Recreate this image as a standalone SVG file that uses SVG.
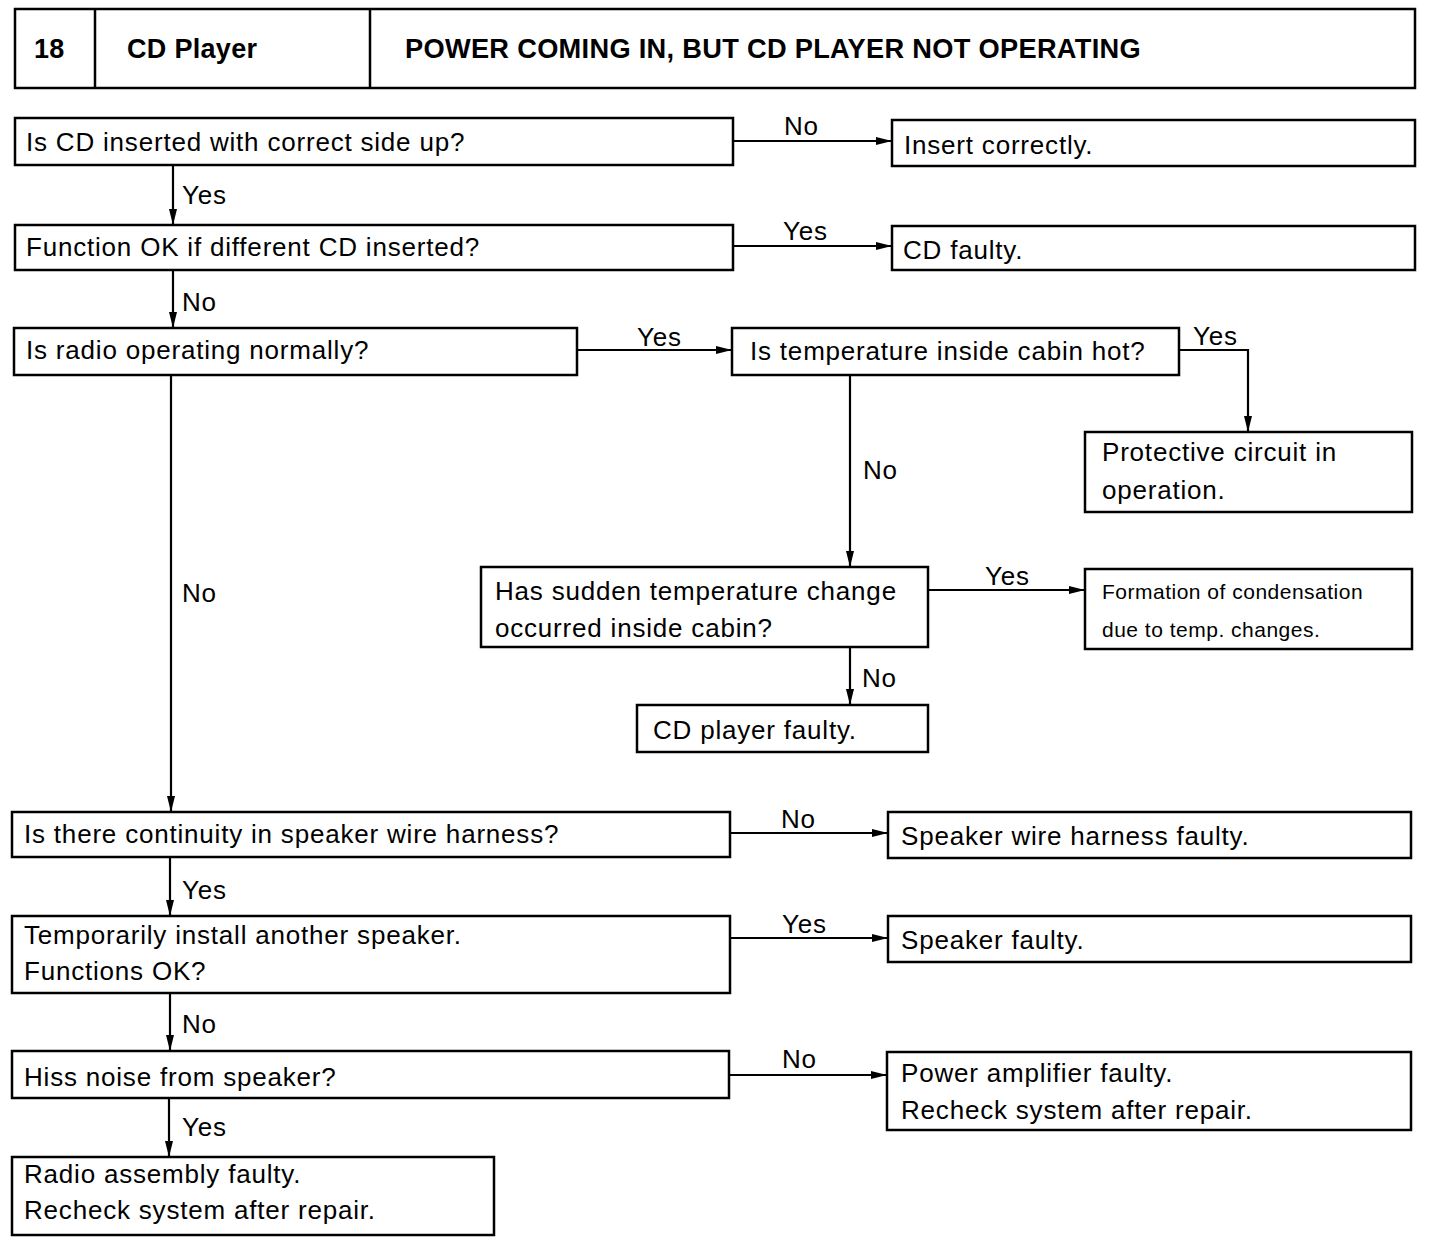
<svg xmlns="http://www.w3.org/2000/svg" width="1440" height="1244" viewBox="0 0 1440 1244">
<style>
rect.b{fill:#fff;stroke:#000;stroke-width:2.5}
text{font-family:"Liberation Sans",Arial,sans-serif;font-size:26px;letter-spacing:0.8px;fill:#000}
text.h{font-weight:bold;font-size:27px;letter-spacing:0.3px}
text.s{font-size:21px;letter-spacing:0.5px}
.c path,.c line{stroke:#000;stroke-width:2.2;fill:none}
</style>
<defs>
<marker id="a" viewBox="0 0 16 8" refX="16" refY="4" markerWidth="16" markerHeight="8" markerUnits="userSpaceOnUse" orient="auto">
<path d="M0,0 L16,4 L0,8 Z" fill="#000"/>
</marker>
</defs>
<rect width="1440" height="1244" fill="#fff"/>
<g id="header">
<rect class="b" x="15" y="9" width="1400" height="79" stroke-width="3"/>
<line x1="95" y1="9" x2="95" y2="88" stroke="#000" stroke-width="2.5"/>
<line x1="370" y1="9" x2="370" y2="88" stroke="#000" stroke-width="2.5"/>
<text class="h" x="34" y="58">18</text>
<text class="h" x="127" y="58">CD Player</text>
<text class="h" x="405" y="58" textLength="736" lengthAdjust="spacingAndGlyphs">POWER COMING IN, BUT CD PLAYER NOT OPERATING</text>
</g>
<g class="c" id="connectors">
<line x1="733" y1="141" x2="892" y2="141" marker-end="url(#a)"/>
<line x1="173" y1="165" x2="173" y2="225" marker-end="url(#a)"/>
<line x1="733" y1="246" x2="892" y2="246" marker-end="url(#a)"/>
<line x1="173" y1="270" x2="173" y2="328" marker-end="url(#a)"/>
<line x1="577" y1="350" x2="732" y2="350" marker-end="url(#a)"/>
<path d="M1179,350 H1248 V432" marker-end="url(#a)"/>
<line x1="850" y1="375" x2="850" y2="567" marker-end="url(#a)"/>
<line x1="928" y1="590" x2="1085" y2="590" marker-end="url(#a)"/>
<line x1="850" y1="647" x2="850" y2="705" marker-end="url(#a)"/>
<line x1="171" y1="375" x2="171" y2="812" marker-end="url(#a)"/>
<line x1="730" y1="833" x2="888" y2="833" marker-end="url(#a)"/>
<line x1="170" y1="857" x2="170" y2="916" marker-end="url(#a)"/>
<line x1="730" y1="938" x2="888" y2="938" marker-end="url(#a)"/>
<line x1="170" y1="993" x2="170" y2="1051" marker-end="url(#a)"/>
<line x1="729" y1="1075" x2="887" y2="1075" marker-end="url(#a)"/>
<line x1="169" y1="1098" x2="169" y2="1157" marker-end="url(#a)"/>
</g>
<g id="labels">
<text x="784" y="135">No</text>
<text x="182" y="204">Yes</text>
<text x="783" y="240">Yes</text>
<text x="182" y="311">No</text>
<text x="637" y="346">Yes</text>
<text x="1193" y="345">Yes</text>
<text x="863" y="479">No</text>
<text x="182" y="602">No</text>
<text x="985" y="585">Yes</text>
<text x="862" y="687">No</text>
<text x="781" y="828">No</text>
<text x="182" y="899">Yes</text>
<text x="782" y="933">Yes</text>
<text x="182" y="1033">No</text>
<text x="782" y="1068">No</text>
<text x="182" y="1136">Yes</text>
</g>
<g id="n1"><rect class="b" x="15" y="118" width="718" height="47"/><text x="26" y="151">Is CD inserted with correct side up?</text></g>
<g id="n2"><rect class="b" x="892" y="120" width="523" height="46"/><text x="904" y="154">Insert correctly.</text></g>
<g id="n3"><rect class="b" x="15" y="225" width="718" height="45"/><text x="26" y="256">Function OK if different CD inserted?</text></g>
<g id="n4"><rect class="b" x="892" y="226" width="523" height="44"/><text x="903" y="259">CD faulty.</text></g>
<g id="n5"><rect class="b" x="14" y="328" width="563" height="47"/><text x="26" y="359">Is radio operating normally?</text></g>
<g id="n6"><rect class="b" x="732" y="328" width="447" height="47"/><text x="750" y="360">Is temperature inside cabin hot?</text></g>
<g id="n7"><rect class="b" x="1085" y="432" width="327" height="80"/><text x="1102" y="461">Protective circuit in</text><text x="1102" y="499">operation.</text></g>
<g id="n8"><rect class="b" x="481" y="567" width="447" height="80"/><text x="495" y="600">Has sudden temperature change</text><text x="495" y="637">occurred inside cabin?</text></g>
<g id="n9"><rect class="b" x="1085" y="569" width="327" height="80"/><text class="s" x="1102" y="599">Formation of condensation</text><text class="s" x="1102" y="637">due to temp. changes.</text></g>
<g id="n10"><rect class="b" x="637" y="705" width="291" height="47"/><text x="653" y="739">CD player faulty.</text></g>
<g id="n11"><rect class="b" x="12" y="812" width="718" height="45"/><text x="24" y="843">Is there continuity in speaker wire harness?</text></g>
<g id="n12"><rect class="b" x="888" y="812" width="523" height="46"/><text x="901" y="845">Speaker wire harness faulty.</text></g>
<g id="n13"><rect class="b" x="12" y="916" width="718" height="77"/><text x="24" y="944">Temporarily install another speaker.</text><text x="24" y="980">Functions OK?</text></g>
<g id="n14"><rect class="b" x="888" y="916" width="523" height="46"/><text x="901" y="949">Speaker faulty.</text></g>
<g id="n15"><rect class="b" x="12" y="1051" width="717" height="47"/><text x="24" y="1086">Hiss noise from speaker?</text></g>
<g id="n16"><rect class="b" x="887" y="1052" width="524" height="78"/><text x="901" y="1082">Power amplifier faulty.</text><text x="901" y="1119">Recheck system after repair.</text></g>
<g id="n17"><rect class="b" x="12" y="1157" width="482" height="78"/><text x="24" y="1183">Radio assembly faulty.</text><text x="24" y="1219">Recheck system after repair.</text></g>
</svg>
